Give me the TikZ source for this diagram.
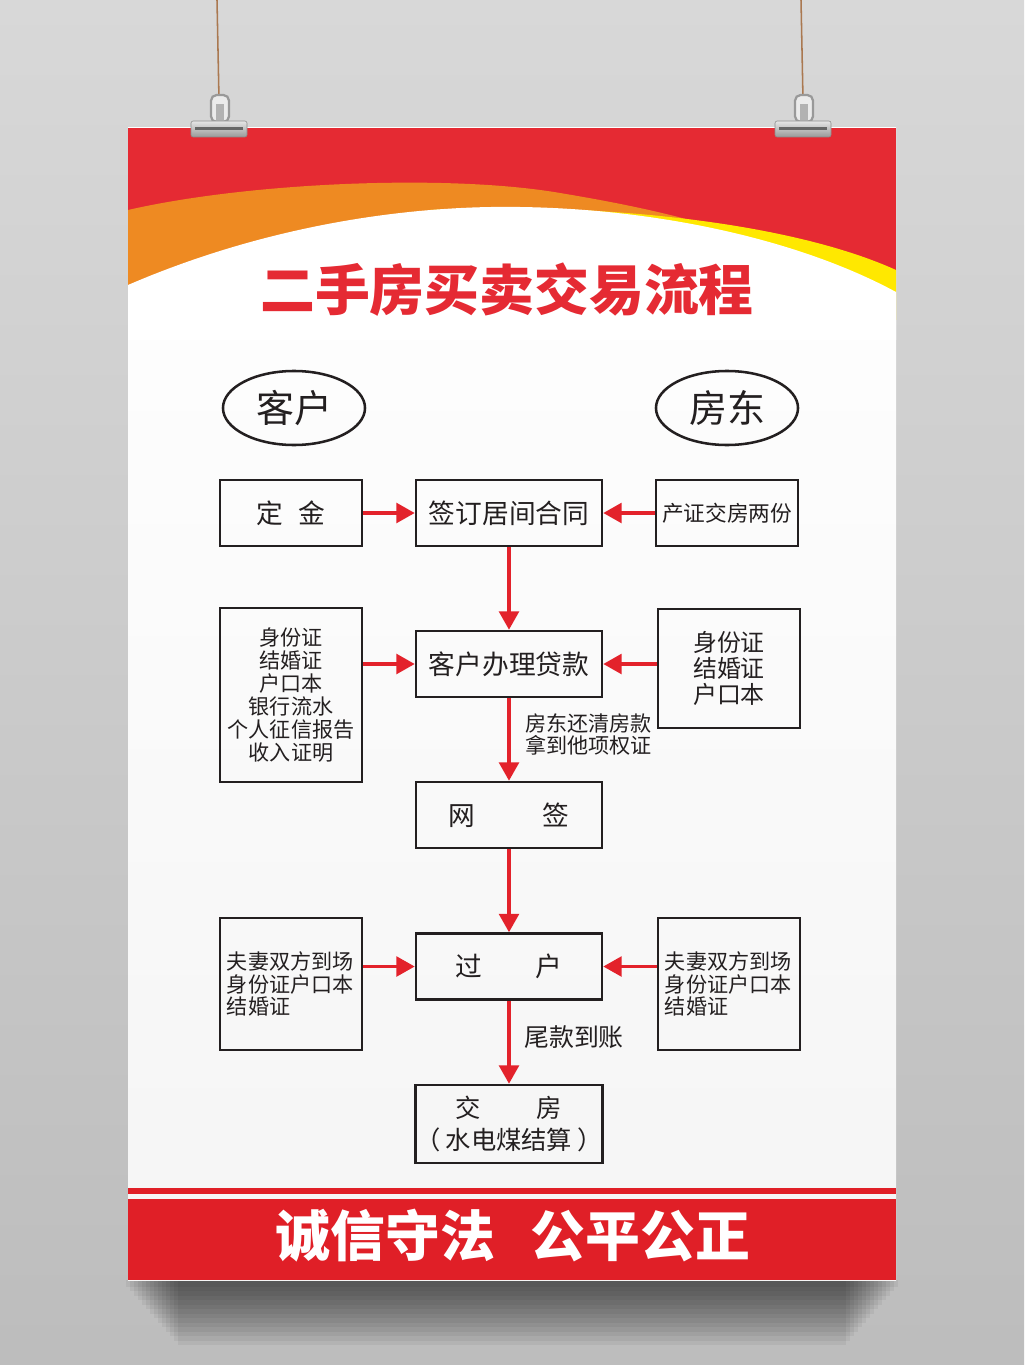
\documentclass[tikz,border=0pt]{standalone}
\usepackage{fontspec}
\setmainfont{Noto Sans CJK SC}
\usepackage{tikz}
\usetikzlibrary{arrows.meta, shapes.geometric, positioning}

\definecolor{posterred}{RGB}{229,42,51}
\definecolor{arrowred}{RGB}{227,34,43}
\definecolor{bandred}{RGB}{224,31,39}
\definecolor{curveorange}{RGB}{238,138,34}
\definecolor{curveyellow}{RGB}{255,232,0}
\definecolor{inkgray}{RGB}{35,31,32}
\definecolor{wallgray}{RGB}{216,216,216}
\definecolor{stringbrown}{RGB}{170,120,80}

\begin{document}
\begin{tikzpicture}[x=0.025cm, y=-0.025cm,
		box/.style={draw=inkgray, line width=1.8pt, text=inkgray, minimum width=3.55cm, minimum height=1.65cm, inner sep=0pt, align=center, font=\fontsize{19}{19}\selectfont},
		widebox/.style={box, minimum width=4.65cm},
		party/.style={ellipse, draw=inkgray, line width=1.8pt, text=inkgray, minimum width=3.55cm, minimum height=1.85cm, inner sep=0pt, font=\fontsize{27}{27}\selectfont},
		flow/.style={draw=arrowred, line width=2.3pt, -{Triangle[length=13pt, width=14pt]}},
		note/.style={text=inkgray, align=left, inner sep=0pt}]
			\useasboundingbox (0,0) rectangle (1024,1365);
			
			\shade[top color=wallgray, bottom color=black!26] (0,0) rectangle (1024,1365);
			\foreach \k in {1,...,14}
				\fill[black, opacity=0.05] (122+\k*4,1280) rectangle (902-\k*4,1282+\k*4.5);
			\shade[top color=white, bottom color=black!4] (128,128) rectangle (896,1280);
			
			\fill[posterred] (128,128) rectangle (896,320);
			\fill[curveorange] (128,210) .. controls (250,182) and (450,174) .. (560,193) .. controls (620,203) and (680,215) .. (740,235) -- (740,320) -- (128,320) -- cycle;
			\fill[curveyellow] (430,210) .. controls (600,202) and (790,222) .. (896,270) -- (896,320) -- (430,320) -- cycle;
			\fill[white] (128,285) .. controls (260,228) and (400,205) .. (520,207) .. controls (660,209) and (800,240) .. (896,292) -- (896,340) -- (128,340) -- cycle;
			
			\foreach \cx in {219,803} {
				\draw[stringbrown, line width=1.1pt] (\cx-2,0) -- (\cx,100);
				\draw[black!40, line width=1.6pt, fill=black!8, rounded corners=4pt] (\cx-8,95) rectangle (\cx+10,122);
				\fill[black!30] (\cx-3,104) rectangle (\cx+5,122);
				\shade[top color=black!10, bottom color=black!40, rounded corners=1.5pt, draw=black!45] (\cx-28,121) rectangle (\cx+28,137);
				\fill[black!60] (\cx-24,127) rectangle (\cx+24,130);
			}
			
			\node[text=posterred, font=\fontsize{39}{39}\selectfont\bfseries] (title) at (507,290) {二手房买卖交易流程};
			
			\node[party] (kehu) at (294,408) {客户};
			\node[party] (fangdong) at (727,408) {房东};
			
			\node[box] (dingjin) at (291,513) {定\hspace{0.55em}金};
			\node[widebox] (hetong) at (509,513) {签订居间合同};
			\node[box, font=\fontsize{15.4}{15.4}\selectfont] (chanzheng) at (727,513) {产证交房两份};
			
			\node[box, minimum height=4.35cm, font=\fontsize{15}{16.3}\selectfont] (kehuzj) at (291,695) {身份证\\结婚证\\户口本\\银行流水\\个人征信报告\\收入证明};
			\node[widebox] (daikuan) at (509,664) {客户办理贷款};
			\node[box, minimum height=2.975cm, font=\fontsize{17}{18.8}\selectfont] (fangzj) at (729,668.5) {身份证\\结婚证\\户口本};
			
			\node[widebox] (wangqian) at (509,815) {网\hspace{2.5em}签};
			
			\node[box, minimum height=3.3cm, align=left, text width=3.2cm, inner xsep=0.18cm, font=\fontsize{15}{16}\selectfont] (kehudc) at (291,984) {夫妻双方到场\\身份证户口本\\结婚证};
			\node[widebox] (guohu) at (509,966.5) {过\hspace{2em}户};
			\node[box, minimum height=3.3cm, align=left, text width=3.2cm, inner xsep=0.18cm, font=\fontsize{15}{16}\selectfont] (fangdc) at (729,984) {夫妻双方到场\\身份证户口本\\结婚证};
			
			\node[widebox, minimum height=1.95cm, font=\fontsize{18}{22.7}\selectfont] (jiaofang) at (509,1124) {交\hspace{2.2em}房\\（\hspace{0.2em}水电煤结算\hspace{0.2em}）};
			
			\draw[flow] (dingjin) -- (hetong);
			\draw[flow] (chanzheng) -- (hetong);
			\draw[flow] (hetong) -- (daikuan);
			\draw[flow] (kehuzj.east |- daikuan.west) -- (daikuan.west);
			\draw[flow] (fangzj.west |- daikuan.east) -- (daikuan.east);
			\draw[flow] (daikuan) -- (wangqian) node[note, pos=0.44, right=0.36cm, font=\fontsize{15}{15.6}\selectfont] (huankuan) {房东还清房款\\拿到他项权证};
			\draw[flow] (wangqian) -- (guohu);
			\draw[flow] (kehudc.east |- guohu.west) -- (guohu.west);
			\draw[flow] (fangdc.west |- guohu.east) -- (guohu.east);
			\draw[flow] (guohu) -- (jiaofang) node[note, pos=0.44, right=0.34cm, font=\fontsize{17.7}{17.7}\selectfont] (weikuan) {尾款到账};
			
			\fill[bandred] (128,1188) rectangle (896,1194);
			\fill[bandred] (128,1199) rectangle (896,1280);
			\node[text=white, font=\fontsize{39}{39}\selectfont\bfseries] (slogan) at (513,1236) {诚信守法\hspace{0.65em}公平公正};
			
		\end{tikzpicture}
\end{document}
